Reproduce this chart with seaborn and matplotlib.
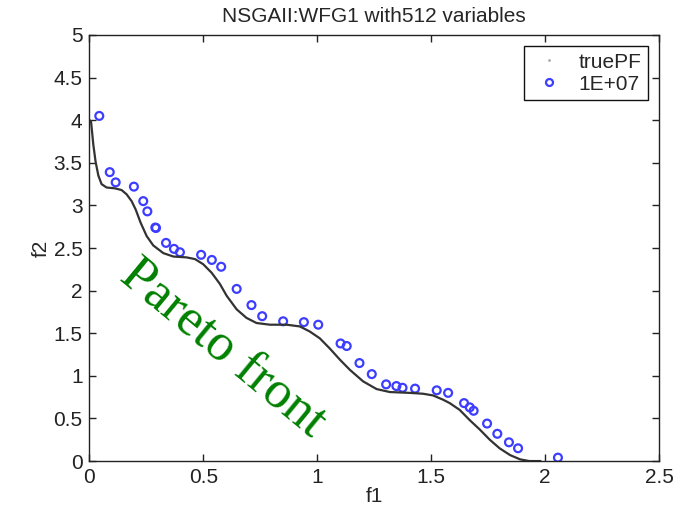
import matplotlib
matplotlib.use("Agg")
import matplotlib.pyplot as plt
from matplotlib.lines import Line2D
import seaborn as sns

# true Pareto front
pf_f1 = [0.0, 0.007, 0.010, 0.017, 0.027, 0.039, 0.053, 0.075, 0.112, 0.141, 0.163,
         0.185, 0.203, 0.224, 0.251, 0.280, 0.324, 0.368, 0.426, 0.463, 0.499,
         0.536, 0.572, 0.602, 0.646, 0.689, 0.733, 0.792, 0.865, 0.923, 0.967,
         1.011, 1.055, 1.099, 1.143, 1.201, 1.260, 1.318, 1.406, 1.464, 1.508,
         1.552, 1.581, 1.625, 1.669, 1.713, 1.757, 1.800, 1.846, 1.890, 1.930, 1.980]
pf_f2 = [4.00, 3.98, 3.90, 3.71, 3.51, 3.35, 3.25, 3.21, 3.20, 3.18, 3.13,
         3.05, 2.95, 2.80, 2.64, 2.53, 2.44, 2.40, 2.39, 2.37, 2.31,
         2.21, 2.08, 1.94, 1.78, 1.68, 1.62, 1.60, 1.60, 1.58, 1.52,
         1.44, 1.32, 1.19, 1.07, 0.935, 0.845, 0.81, 0.80, 0.79, 0.77,
         0.72, 0.68, 0.60, 0.48, 0.37, 0.25, 0.15, 0.07, 0.02, 0.0, 0.0]

# NSGAII solutions after 1E+07 evaluations
sol_f1 = [0.043, 0.089, 0.115, 0.195, 0.236, 0.254, 0.289, 0.292, 0.336, 0.371,
          0.397, 0.490, 0.537, 0.578, 0.646, 0.711, 0.758, 0.850, 0.941, 1.004,
          1.102, 1.129, 1.185, 1.239, 1.302, 1.347, 1.374, 1.429, 1.524, 1.574,
          1.644, 1.669, 1.686, 1.745, 1.790, 1.841, 1.881, 2.056]
sol_f2 = [4.05, 3.39, 3.27, 3.22, 3.05, 2.93, 2.74, 2.735, 2.56, 2.49,
          2.45, 2.42, 2.36, 2.28, 2.02, 1.83, 1.70, 1.64, 1.63, 1.60,
          1.38, 1.35, 1.15, 1.02, 0.90, 0.88, 0.86, 0.85, 0.83, 0.80,
          0.68, 0.63, 0.59, 0.44, 0.32, 0.22, 0.15, 0.04]

sns.set_style("ticks")
plt.rcParams["font.family"] = ["Liberation Sans", "DejaVu Sans"]

fig = plt.figure(figsize=(6.83, 5.14), dpi=100)
ax = fig.add_axes([0.131, 0.103, 0.834, 0.829])

sns.lineplot(x=pf_f1, y=pf_f2, ax=ax, sort=False, color="#333333", linewidth=1.6)
sns.scatterplot(x=sol_f1, y=sol_f2, ax=ax, marker="o", s=32,
                facecolor="none", edgecolor="#3d3dff", linewidth=1.6)

ax.set_xlim(0, 2.5)
ax.set_ylim(0, 5)
ax.set_xticks([0, 0.5, 1, 1.5, 2, 2.5])
ax.set_xticklabels(["0", "0.5", "1", "1.5", "2", "2.5"])
ax.set_yticks([0, 0.5, 1, 1.5, 2, 2.5, 3, 3.5, 4, 4.5, 5])
ax.set_yticklabels(["0", "0.5", "1", "1.5", "2", "2.5", "3", "3.5", "4", "4.5", "5"])
ax.tick_params(direction="in", length=5, width=1, top=True, right=True,
               labelsize=15, colors="#222222", pad=5)
for sp in ax.spines.values():
    sp.set_visible(True)
    sp.set_color("#222222")
    sp.set_linewidth(1)

ax.set_xlabel("f1", fontsize=15, labelpad=0)
ax.set_ylabel("f2", fontsize=15, labelpad=2)
ax.set_title("NSGAII:WFG1 with512 variables", fontsize=15, pad=9)

handles = [
    Line2D([], [], linestyle="none", marker=".", markersize=2, color="#aaaaaa"),
    Line2D([], [], linestyle="none", marker="o", markersize=5, markerfacecolor="none",
           markeredgecolor="#3d3dff", markeredgewidth=1.6),
]
leg = ax.legend(handles, ["truePF", "1E+07"], loc="upper right", fontsize=15,
                frameon=True, fancybox=False, framealpha=1, borderpad=0.3,
                labelspacing=0.15, handlelength=1.8, handletextpad=0.5,
                borderaxespad=0.55, markerfirst=True)
leg.get_frame().set_edgecolor("#111111")
leg.get_frame().set_linewidth(1)

ax.text(0.585, 1.32, "Pareto front", color="green", fontsize=38,
        family=["Liberation Serif", "DejaVu Serif"], rotation=-39.5,
        rotation_mode="anchor", ha="center", va="center")

fig.savefig("out.png", dpi=100)
